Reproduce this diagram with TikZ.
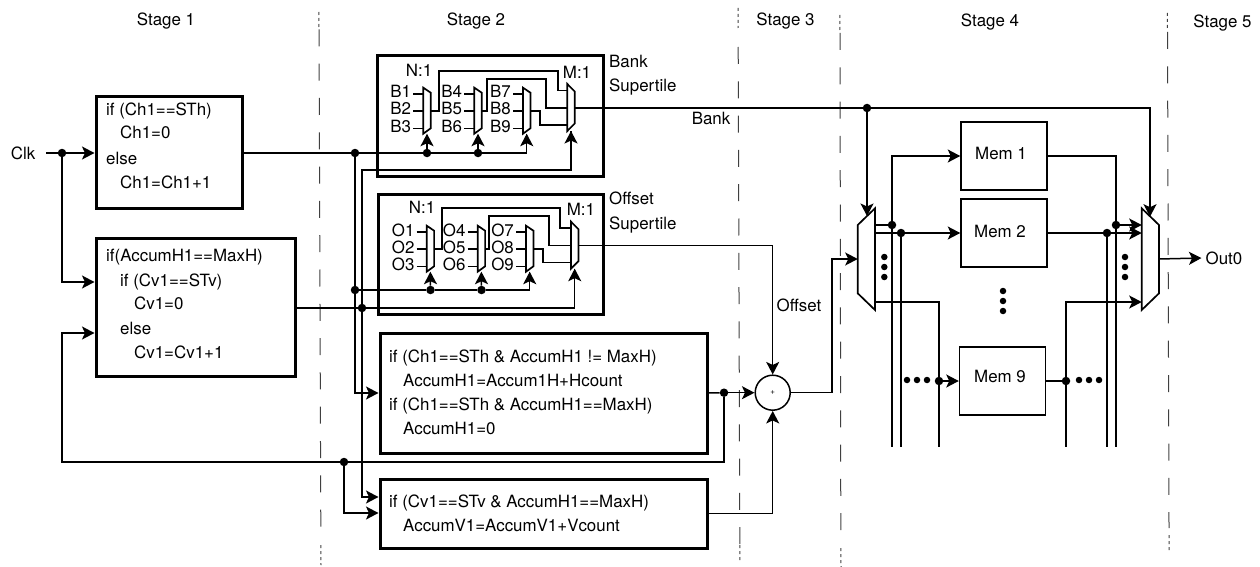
\documentclass[tikz,border=0pt]{standalone}
\usepackage{fontspec}
\setmainfont{TeX Gyre Heros}
\usetikzlibrary{arrows.meta}
\tikzset{
  wire/.style={line width=1.5pt},
  muxline/.style={line width=1.7pt},
  thickbox/.style={draw,line width=3pt},
  membox/.style={draw,line width=1.5pt},
  stagesep/.style={line width=1pt,black!75,dash pattern=on 17pt off 17.3pt},
  finesep/.style={line width=1pt,black!75,dash pattern=on 3pt off 3pt},
  codeline/.style={anchor=base west,inner sep=0pt},
  plainlabel/.style={inner sep=0pt},
  jdot/.style={circle,fill=black,inner sep=0pt,minimum size=8.5pt},
  ldot/.style={circle,fill=black,inner sep=0pt,minimum size=6.5pt},
}
% small N:1 mux: name, left x, top y, three inputs
\newcommand{\muxN}[6]{
  \draw[muxline] (#2,#3) -- ++(7.4,5) -- ++(0,35.6) -- ++(-7.4,5.4) -- cycle;
  \coordinate (#1out) at (#2+7.4,#3+23.3);
  \coordinate (#1sel) at (#2+3.7,#3+46);
  \foreach \pin/\off/\txt in {a/6.3/#4,b/23.3/#5,c/41/#6}{
    \node[anchor=base east,inner sep=0pt] (#1\pin) at (#2-12,#3+\off+4) {\txt};
    \draw[wire] (#2-10,#3+\off) -- (#2,#3+\off);
  }
}
% M:1 mux: name, left x, top y
\newcommand{\muxM}[3]{
  \draw[muxline] (#2,#3) -- ++(7.4,7.5) -- ++(0,32) -- ++(-7.4,7.5) -- cycle;
  \coordinate (#1a) at (#2,#3+6.5);
  \coordinate (#1b) at (#2,#3+24);
  \coordinate (#1c) at (#2,#3+41);
  \coordinate (#1out) at (#2+7.4,#3+24);
  \coordinate (#1sel) at (#2+3.7,#3+47);
}
\begin{document}
\begin{tikzpicture}[x=1pt,y=-1pt,>={Stealth[length=12.5pt,width=13pt,inset=3pt]},
    font=\fontsize{16.9}{20}\selectfont]
  \useasboundingbox (0,0) rectangle (1260,567);
  % stages
  \node[plainlabel] (stage1) at (166,21) {Stage 1};
  \node[plainlabel] (stage2) at (476,21) {Stage 2};
  \node[plainlabel] (stage3) at (785.5,21) {Stage 3};
  \node[plainlabel] (stage4) at (990,22) {Stage 4};
  \node[plainlabel] (stage5) at (1222.5,23) {Stage 5};
  \draw[finesep] (318.9,12) -- (319,28);
  \draw[stagesep] (319,29.4) -- (320.8,527);
  \draw[finesep] (320.8,545) -- (321,565);
  \draw[finesep] (738,8) -- (738.1,28);
  \draw[stagesep] (738.2,47) -- (739.8,544);
  \draw[finesep] (739.8,545) -- (740,562);
  \draw[finesep] (839.8,15) -- (839.9,30);
  \draw[stagesep] (840,33) -- (840.8,530);
  \draw[finesep] (840.9,548) -- (841,567);
  \draw[finesep] (1167.3,13) -- (1167.4,28);
  \draw[stagesep] (1167.5,32) -- (1169,528);
  \draw[finesep] (1169,535) -- (1169.1,550);
  % boxes
  \node[plainlabel] (clk) at (23,153) {Clk};
  \node[thickbox,minimum width=146pt,minimum height=111pt] (chbox) at (169,152.5) {};
  \node[thickbox,minimum width=199pt,minimum height=138pt] (cvbox) at (195.5,307) {};
  \node[thickbox,minimum width=226pt,minimum height=120pt] (banktile) at (490,116) {};
  \node[thickbox,minimum width=225pt,minimum height=120pt] (offtile) at (490.5,254.5) {};
  \node[thickbox,minimum width=327pt,minimum height=120pt] (accumh) at (543.5,393) {};
  \node[thickbox,minimum width=327pt,minimum height=69pt] (accumv) at (543.5,513.5) {};
  \node[membox,minimum width=86pt,minimum height=68pt] (mem1) at (1004,156) {};
  \node[membox,minimum width=86pt,minimum height=68pt] (mem2) at (1004,233) {};
  \node[membox,minimum width=86pt,minimum height=68pt] (mem9) at (1002.5,381) {};
  \node[plainlabel] (mem1text) at (1001,153) {Mem 1};
  \node[plainlabel] (mem2text) at (1000,231) {Mem 2};
  \node[plainlabel] (mem9text) at (1000,376) {Mem 9};
  \node[circle,draw,line width=1.5pt,minimum size=35pt,inner sep=0pt] (adder) at (772.7,392.7) {\fontsize{8}{8}\selectfont +};
  % box text
  \node[codeline] (ch1) at (106,116) {if (Ch1==STh)};
  \node[codeline] (ch2) at (120,139) {Ch1=0};
  \node[codeline] (ch3) at (106,164) {else};
  \node[codeline] (ch4) at (120,188) {Ch1=Ch1+1};
  \node[codeline] (cv1) at (106,261) {if(AccumH1==MaxH)};
  \node[codeline] (cv2) at (120,286) {if (Cv1==STv)};
  \node[codeline] (cv3) at (134,309) {Cv1=0};
  \node[codeline] (cv4) at (120,334) {else};
  \node[codeline] (cv5) at (134,358) {Cv1=Cv1+1};
  \node[codeline] (ah1) at (389,362) {if (Ch1==STh \& AccumH1 != MaxH)};
  \node[codeline] (ah2) at (403,386) {AccumH1=Accum1H+Hcount};
  \node[codeline] (ah3) at (389,410) {if (Ch1==STh \& AccumH1==MaxH)};
  \node[codeline] (ah4) at (403,434) {AccumH1=0};
  \node[codeline] (av1) at (389,507) {if (Cv1==STv \& AccumH1==MaxH)};
  \node[codeline] (av2) at (403,531) {AccumV1=AccumV1+Vcount};
  % labels
  \node[plainlabel] (bankn) at (419,70) {N:1};
  \node[plainlabel] (bankm) at (577,72) {M:1};
  \node[plainlabel] (offn) at (422,207) {N:1};
  \node[plainlabel] (offm) at (581,209) {M:1};
  \node[codeline] (banktxt1) at (609,68) {Bank};
  \node[codeline] (banktxt2) at (609,92) {Supertile};
  \node[codeline] (offtxt1) at (609,204) {Offset};
  \node[codeline] (offtxt2) at (609,229) {Supertile};
  \node[plainlabel] (banklbl) at (711,118) {Bank};
  \node[plainlabel] (offlbl) at (799,305) {Offset};
  \node[plainlabel] (out0) at (1224,258) {Out0};
  % muxes
  \muxN{bmuxa}{423.3}{87.7}{B1}{B2}{B3}
  \muxN{bmuxb}{474.3}{87.7}{B4}{B5}{B6}
  \muxN{bmuxc}{523}{87.7}{B7}{B8}{B9}
  \muxM{bmuxm}{567.3}{84}
  \muxN{omuxa}{426.7}{225.7}{O1}{O2}{O3}
  \muxN{omuxb}{477.7}{225.7}{O4}{O5}{O6}
  \muxN{omuxc}{526}{225.7}{O7}{O8}{O9}
  \muxM{omuxm}{571}{221.7}
  \draw[muxline] (857.7,225) -- (875,208.3) -- (875,310) -- (857.7,293.3) -- cycle;
  \draw[muxline] (1141.7,208.3) -- (1159,225) -- (1159,293.3) -- (1141.7,310) -- cycle;
  \coordinate (inmuxin) at (857.7,259);
  \coordinate (inmuxtop) at (867,216);
  \coordinate (inmuxa) at (875,225);
  \coordinate (inmuxb) at (875,233);
  \coordinate (inmuxc) at (875,302);
  \coordinate (outmuxtop) at (1150,216.7);
  \coordinate (outmuxa) at (1141.7,225);
  \coordinate (outmuxb) at (1141.7,233);
  \coordinate (outmuxc) at (1141.7,302);
  \coordinate (outmuxout) at (1159,259);
  % junctions
  \node[jdot] (clkdot) at (62,153) {};
  \node[jdot] (chdot) at (355,153) {};
  \node[jdot] (bdota) at (427,153) {};
  \node[jdot] (bdotb) at (478,153) {};
  \node[jdot] (cvdota) at (355,290) {};
  \node[jdot] (odota) at (430.5,290) {};
  \node[jdot] (odotb) at (481.5,290) {};
  \node[jdot] (cvdotb) at (362,308) {};
  \node[jdot] (ahdot) at (724,392.7) {};
  \node[jdot] (backdot) at (344,462) {};
  \node[jdot] (bankdot) at (867,108) {};
  \node[jdot] (inadot) at (892,225) {};
  \node[jdot] (inbdot) at (901,233) {};
  \node[jdot] (indot) at (939,381) {};
  \node[jdot] (outadot) at (1116,225) {};
  \node[jdot] (outbdot) at (1107,233) {};
  \node[jdot] (outdot) at (1066,381) {};
  \coordinate (fanbottom) at (0,447);
  \foreach \yy in {257,267,277}{
    \node[ldot] (indots\yy) at (884.3,\yy) {};
    \node[ldot] (outdots\yy) at (1125,\yy) {};
  }
  \foreach \yy in {291,301,311}
    \node[ldot] (memdots\yy) at (1003,\yy) {};
  \foreach \xx in {907,917,927,1079,1089,1099}
    \node[ldot] (rowdots\xx) at (\xx,380) {};
  % stage 1 and 2 wires
  \draw[wire] (clk) ++(23,0) -- (clkdot);
  \draw[wire,->] (clkdot) -- (chbox.west |- clkdot);
  \draw[wire,->] (clkdot) |- (cvbox.west |- 0,282);
  \draw[wire,->] (backdot) -| (62,333) -- (cvbox.west |- 0,333);
  \draw[wire] (chbox.east |- chdot) -- (chdot);
  \draw[wire] (chdot) -- (bdota) -- (bdotb) -| (bmuxcsel);
  \draw[wire,->] (bdota) -- (bmuxasel);
  \draw[wire,->] (bdotb) -- (bmuxbsel);
  \draw[wire,->] (bmuxcsel |- 0,145) -- (bmuxcsel);
  \draw[wire] (chdot) -- (cvdota);
  \draw[wire,->] (cvdota) |- (accumh.west);
  \draw[wire] (cvbox.east |- cvdotb) -- (cvdotb) -| (omuxmsel);
  \draw[wire,->] (omuxmsel |- 0,295) -- (omuxmsel);
  \draw[wire] (cvdota) -- (odota) -- (odotb) -| (omuxcsel);
  \draw[wire,->] (odota) -- (omuxasel);
  \draw[wire,->] (odotb) -- (omuxbsel);
  \draw[wire,->] (omuxcsel |- 0,282) -- (omuxcsel);
  \draw[wire] (cvdotb) |- (362,170) -| (bmuxmsel);
  \draw[wire,->] (bmuxmsel |- 0,145) -- (bmuxmsel);
  \draw[wire,->] (cvdotb) |- (accumv.west |- 0,497);
  \draw[wire] (bmuxaout) -| (439,71) -| (558,90.5) -- (bmuxma);
  \draw[wire] (bmuxbout) -| (487,79) -| (546,108) -- (bmuxmb);
  \draw[wire] (bmuxcout) -| (540,125) -- (bmuxmc);
  \draw[wire] (omuxaout) -| (442,208) -| (560,228.2) -- (omuxma);
  \draw[wire] (omuxbout) -| (489,216) -| (549,245.7) -- (omuxmb);
  \draw[wire] (omuxcout) -| (543,262.7) -- (omuxmc);
  \draw[wire,->] (bmuxmout) -| (outmuxtop);
  \draw[wire,->] (bankdot) -- (inmuxtop);
  \draw[wire,->] (omuxmout) -| (adder.north);
  \draw[wire] (accumh.east) -- (ahdot);
  \draw[wire,->] (ahdot) -- (adder.west);
  \draw[wire] (ahdot) |- (backdot);
  \draw[wire] (backdot) -- (62,462);
  \draw[wire,->] (backdot) |- (accumv.west |- 0,513);
  \draw[wire,->] (accumv.east) -| (adder.south);
  \draw[wire,->] (adder.east) -| (832,259) -- (inmuxin);
  % stage 4 wires
  \draw[wire] (inmuxa) -- (inadot);
  \draw[wire,->] (inadot) |- (mem1.west);
  \draw[wire] (inadot) -- (inadot |- fanbottom);
  \draw[wire,->] (inmuxb) -- (mem2.west);
  \draw[wire] (inbdot) -- (inbdot |- fanbottom);
  \draw[wire] (inmuxc) -| (indot);
  \draw[wire,->] (indot) -- (mem9.west);
  \draw[wire] (indot) -- (indot |- fanbottom);
  \draw[wire] (mem1.east) -| (outadot);
  \draw[wire,->] (outadot) -- (outmuxa);
  \draw[wire] (outadot) -- (outadot |- fanbottom);
  \draw[wire,->] (mem2.east) -- (outmuxb);
  \draw[wire] (outbdot) -- (outbdot |- fanbottom);
  \draw[wire] (mem9.east) -- (outdot);
  \draw[wire] (outdot) -- (outdot |- fanbottom);
  \draw[wire,->] (outdot) |- (outmuxc);
  \draw[wire,->] (outmuxout) -- ([xshift=-4pt]out0.west);
\end{tikzpicture}
\end{document}
